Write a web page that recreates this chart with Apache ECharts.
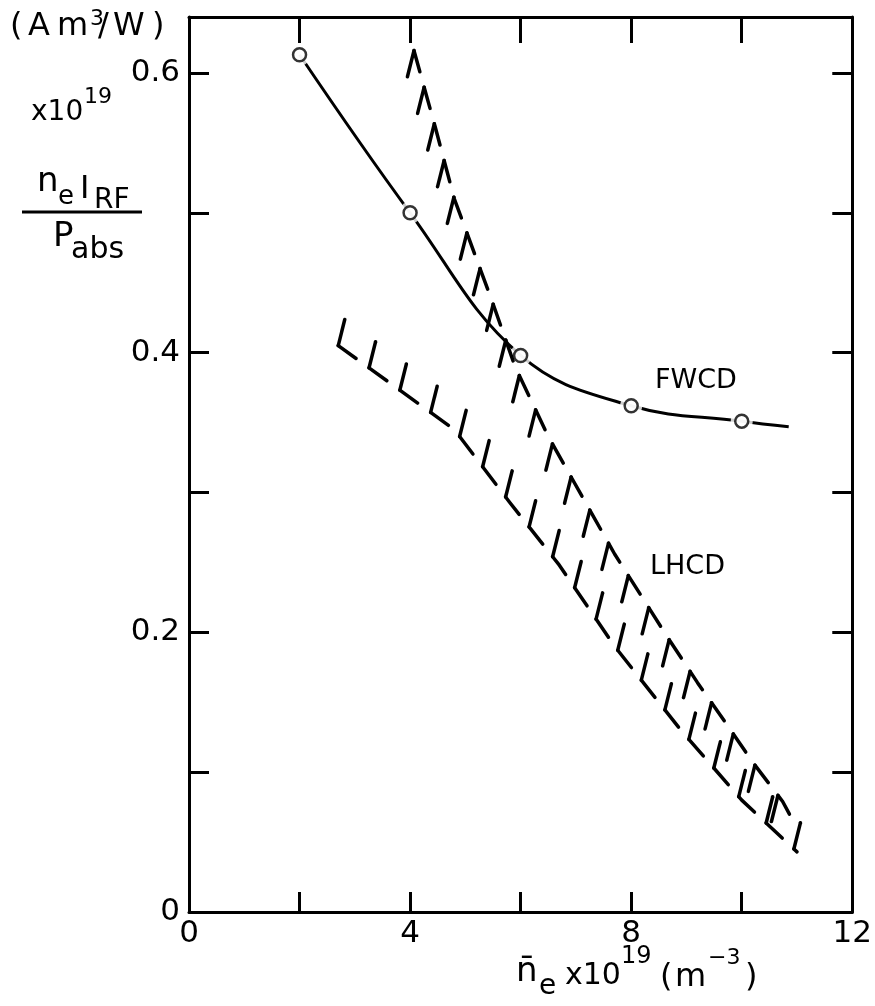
<!DOCTYPE html>
<html>
<head>
<meta charset="utf-8">
<script src="https://cdn.jsdelivr.net/npm/echarts@6/dist/echarts.min.js"></script>
<style>
html, body { margin: 0; padding: 0; background: #fff; }
#chart { width: 875px; height: 1006px; }
</style>
</head>
<body>
<div id="chart"></div>
<script>
// FWCD: measured points (open circles) and where the drawn curve stops
var fwcdX = [2, 4, 6, 8, 10];
var fwcdY = [0.613, 0.500, 0.398, 0.362, 0.351];
var fwcdTail = [10.85, 0.347];

// LHCD: the two edges of the hatched band
var lhcdUpper = [[4.07, 0.616], [4.45, 0.562], [4.8, 0.51], [5.5, 0.435], [5.9, 0.39], [6.5, 0.34],
                 [7.7, 0.256], [8.65, 0.197], [9.2, 0.164], [9.75, 0.133], [10.2, 0.107], [10.74, 0.079], [11.0, 0.06]];
var lhcdLower = [[2.7, 0.405], [4.8, 0.345], [5.8, 0.293], [6.7, 0.248], [7.7, 0.19], [8.9, 0.13],
                 [10.0, 0.08], [11.0, 0.043]];

// tick labels that are printed
var xLabels = [0, 4, 8, 12];
var yLabels = [0, 0.2, 0.4, 0.6];

var FONT = '"DejaVu Sans"';
var BLACK = '#000';

var fwcdPoints = fwcdX.map(function (x, i) { return [x, fwcdY[i]]; });

function onlyLabels(list) {
    return function (v) {
        for (var i = 0; i < list.length; i++) {
            if (Math.abs(v - list[i]) < 1e-6) return String(list[i]);
        }
        return '';
    };
}

// hatched edge helpers (pixel space)
var PERIOD = 38, DASH = 22, HATCH = 27;
var DIR = (function () { var l = Math.hypot(-0.25, 1); return [-0.25 / l, 1 / l]; })();

function pointAt(pts, cum, s) {
    for (var i = 1; i < pts.length; i++) {
        if (s <= cum[i]) {
            var t = (s - cum[i - 1]) / (cum[i] - cum[i - 1]);
            return [pts[i - 1][0] + t * (pts[i][0] - pts[i - 1][0]), pts[i - 1][1] + t * (pts[i][1] - pts[i - 1][1])];
        }
    }
    return pts[pts.length - 1].slice();
}

function yAt(pts, x) {
    for (var i = 1; i < pts.length; i++) {
        var a = pts[i - 1], b = pts[i];
        if (x >= a[0] && x <= b[0]) return a[1] + (x - a[0]) / (b[0] - a[0]) * (b[1] - a[1]);
    }
    return null;
}

function hatchedEdge(edge, other, side) {
    return function (params, api) {
        if (params.dataIndex !== 0) return null;
        var pts = edge.map(function (p) { return api.coord(p); });
        var opp = other.map(function (p) { return api.coord(p); });
        var cum = [0];
        for (var i = 1; i < pts.length; i++) {
            cum.push(cum[i - 1] + Math.hypot(pts[i][0] - pts[i - 1][0], pts[i][1] - pts[i - 1][1]));
        }
        var total = cum[cum.length - 1];
        var style = { stroke: BLACK, lineWidth: 3.5, lineCap: 'round', lineJoin: 'round', fill: null };
        var children = [];
        for (var s = 0; s < total - 4; s += PERIOD) {
            var e = Math.min(s + DASH, total);
            var seg = [pointAt(pts, cum, s)];
            for (var k = 1; k < pts.length - 1; k++) {
                if (cum[k] > s && cum[k] < e) seg.push(pts[k]);
            }
            seg.push(pointAt(pts, cum, e));
            children.push({ type: 'polyline', shape: { points: seg }, style: style });
            var p = seg[0];
            var len = HATCH;
            var yo = yAt(opp, p[0]);
            if (yo !== null) len = Math.min(HATCH, Math.abs(yo - p[1]) / DIR[1]);
            children.push({
                type: 'line',
                shape: { x1: p[0], y1: p[1], x2: p[0] + side * DIR[0] * len, y2: p[1] + side * DIR[1] * len },
                style: style
            });
        }
        return { type: 'group', children: children };
    };
}

function txt(s, x, y, size) {
    return {
        type: 'text', x: x, y: y, z: 10,
        style: { text: s, fill: BLACK, font: size + 'px ' + FONT, textVerticalAlign: 'middle', verticalAlign: 'middle' }
    };
}

var axisLine = { onZero: false, lineStyle: { color: BLACK, width: 3 } };
function ticks(len) { return { inside: true, length: len, lineStyle: { color: BLACK, width: 3 } }; }

var chart = echarts.init(document.getElementById('chart'));

var option = {
    animation: false,
    backgroundColor: '#fff',
    grid: { left: 189, right: 21, top: 17, bottom: 94 },
    xAxis: [{
        type: 'value', min: 0, max: 12, interval: 2, position: 'bottom',
        axisLine: axisLine, axisTick: ticks(20), splitLine: { show: false },
        axisLabel: { formatter: onlyLabels(xLabels), color: BLACK, fontSize: 31, fontFamily: FONT, margin: 6 }
    }, {
        type: 'value', min: 0, max: 12, interval: 2, position: 'top',
        axisLine: axisLine, axisTick: ticks(26), splitLine: { show: false }, axisLabel: { show: false }
    }],
    yAxis: [{
        type: 'value', min: 0, max: 0.64, interval: 0.1, position: 'left',
        axisLine: axisLine, axisTick: ticks(20), splitLine: { show: false },
        axisLabel: { formatter: onlyLabels(yLabels), color: BLACK, fontSize: 31, fontFamily: FONT, margin: 9 }
    }, {
        type: 'value', min: 0, max: 0.64, interval: 0.1, position: 'right',
        axisLine: axisLine, axisTick: ticks(20), splitLine: { show: false }, axisLabel: { show: false }
    }],
    series: [{
        name: 'FWCD',
        type: 'line',
        data: fwcdPoints.concat([fwcdTail]),
        smooth: 0.4,
        symbol: 'none',
        lineStyle: { color: BLACK, width: 3 },
        z: 2
    }, {
        // white discs leave the small gap round each circle
        type: 'scatter',
        data: fwcdPoints,
        symbol: 'circle',
        symbolSize: 22,
        itemStyle: { color: '#fff' },
        z: 3
    }, {
        name: 'LHCD upper',
        type: 'custom',
        data: lhcdUpper,
        renderItem: hatchedEdge(lhcdUpper, lhcdLower, 1),
        z: 4
    }, {
        name: 'LHCD lower',
        type: 'custom',
        data: lhcdLower,
        renderItem: hatchedEdge(lhcdLower, lhcdUpper, -1),
        z: 4
    }, {
        type: 'scatter',
        data: fwcdPoints,
        symbol: 'circle',
        symbolSize: 13,
        itemStyle: { color: '#fff', borderColor: BLACK, borderWidth: 2.5 },
        z: 5
    }],
    graphic: { elements: [
        // unit (Am3/W)
        txt('(', 10, 27, 32), txt('A', 28, 27, 32), txt('m', 57, 27, 32), txt('3', 90, 19, 22),
        txt('/', 98, 27, 32), txt('W', 113, 27, 32), txt(')', 152, 27, 32),
        // x10^19
        txt('x10', 31, 113, 28), txt('19', 84, 97, 22),
        // n_e I_RF / P_abs
        txt('n', 37, 182, 34), txt('e', 58, 197, 26), txt('I', 80, 190, 32), txt('RF', 94, 201, 28),
        { type: 'line', shape: { x1: 22, y1: 212, x2: 142, y2: 212 }, style: { stroke: BLACK, lineWidth: 3 } },
        txt('P', 53, 237, 34), txt('abs', 71, 250, 30),
        // x-axis name
        txt('n\u0304', 516, 972, 34), txt('e', 539, 987, 28),
        txt('x10', 565, 976, 30), txt('19', 621, 957, 24),
        txt('(', 660, 978, 32), txt('m', 675, 978, 32), txt('\u22123', 708, 958, 22), txt(')', 745, 978, 32),
        // series labels
        txt('FWCD', 655, 381, 27), txt('LHCD', 650, 567, 27)
    ] }
};

chart.setOption(option);
</script>
</body>
</html>
